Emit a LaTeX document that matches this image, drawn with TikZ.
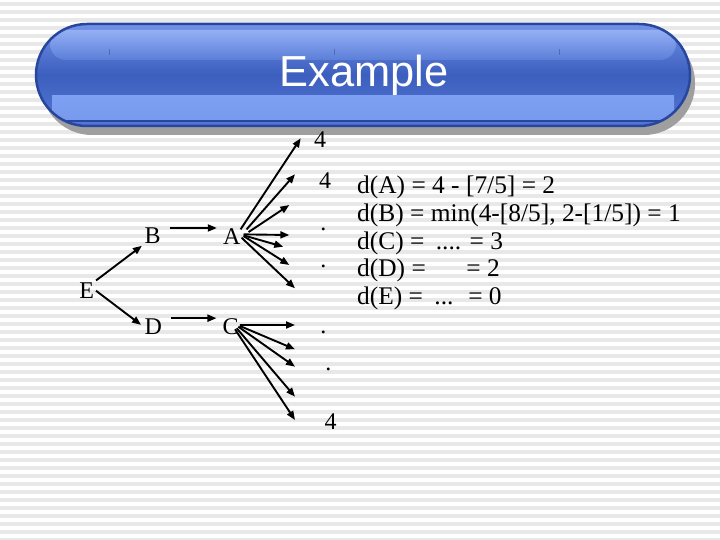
\documentclass[tikz,border=0pt]{standalone}
\usepackage{fontspec}
\setmainfont{Liberation Serif}
\newfontfamily\titlefont{Liberation Sans}
\usetikzlibrary{arrows.meta,calc}
\definecolor{stripe}{HTML}{E8E8E8}
\definecolor{capborder}{HTML}{27479E}
\definecolor{captop}{HTML}{7292E6}
\definecolor{capmid}{HTML}{3C5EBE}
\definecolor{capbot}{HTML}{5678D4}
\definecolor{hltop}{HTML}{94AFF4}
\definecolor{hlbot}{HTML}{5B7ED8}
\definecolor{bandcol}{HTML}{7EA0F2}
\tikzset{
  lbl/.style={font=\fontsize{24}{28}\selectfont, anchor=base, inner sep=1pt},
  eq/.style={font=\fontsize{25.4}{28}\selectfont, anchor=base west, inner sep=0pt},
  arr/.style={line width=1.9pt, -{Triangle[length=9pt,width=7pt]}}
}
\begin{document}
\begin{tikzpicture}[x=1pt,y=-1pt]
\useasboundingbox (0,0) rectangle (720,540);
% background
\fill[white] (0,0) rectangle (720,540);
\foreach \i in {0,...,67} \fill[stripe] (0,\i*8+2) rectangle (720,\i*8+6);
% title capsule
\fill[gray!75,rounded corners=51pt] (41,32) rectangle (695,135);
\shade[top color=captop, bottom color=capbot, middle color=capmid, rounded corners=51pt] (36,24) rectangle (690,126);
\begin{scope}
  \clip[rounded corners=51pt] (36,24) rectangle (690,126);
  \shade[top color=hltop, bottom color=hlbot, rounded corners=16pt] (50,30) rectangle (676,60);
  \shade[top color=bandcol, bottom color=bandcol!85!capbot] (52,96) rectangle (674,120);
  \draw[capborder, line width=1.2pt] (40,121) -- (686,121);
\end{scope}
\draw[capborder, line width=2.5pt, rounded corners=51pt] (36,24) rectangle (690,126);
\foreach \tx in {109,334,559} \draw[capborder!80, line width=0.6pt] (\tx,49) -- (\tx,55);
\node[font=\titlefont\fontsize{43.4}{48}\selectfont, text=white, anchor=base, inner sep=0pt] (title) at (364,87) {Example};
% graph nodes
\node[lbl] (E) at (86.7,298) {E};
\node[lbl] (B) at (152.7,243.3) {B};
\node[lbl] (A) at (231.7,244) {A};
\node[lbl] (D) at (153.3,334.5) {D};
\node[lbl] (C) at (230.7,334.5) {C};
% labels at fan ends
\node[lbl] (t1) at (320,148) {4};
\node[lbl] (t2) at (325,189) {4};
\node[lbl] (d1) at (323.3,230) {.};
\node[lbl] (d2) at (323.3,267.5) {.};
\node[lbl] (d3) at (323.3,333) {.};
\node[lbl] (d4) at (328.3,370) {.};
\node[lbl] (t3) at (330.7,429) {4};
% fan end coordinates
\coordinate (a1) at (300.7,138.3);
\coordinate (a2) at (295,174.3);
\coordinate (a3) at (289.3,205);
\coordinate (a4) at (289.3,235);
\coordinate (a5) at (283.3,246.7);
\coordinate (a6) at (289.3,265);
\coordinate (a7) at (295,288.3);
\coordinate (c1) at (295,325);
\coordinate (c2) at (295,349.3);
\coordinate (c3) at (295,366.7);
\coordinate (c4) at (295,396.7);
\coordinate (c5) at (295,420);
% connectors
\draw[arr, shorten <=1pt, shorten >=2pt] (E.north east) -- (B.south west);
\draw[arr, shorten <=1pt, shorten >=3pt] (E.east) -- (D.west);
\draw[arr] ([xshift=8pt,yshift=-1.6pt]B.north east) -- ([xshift=-5pt,yshift=-1.6pt]B.north east -| A.west);
\draw[arr] ([xshift=8pt,yshift=8.5pt]D.east) -- ([xshift=-5pt,yshift=8.5pt]D.east -| C.west);
\draw[arr] ($(A.east)+(-1,-6.7)$) -- (a1);
\draw[arr] ($(A.east)+(5,-6.7)$) -- (a2);
\draw[arr] ($(A.east)+(7,-4)$) -- (a3);
\draw[arr] ($(A.east)+(2,-1.7)$) -- (a4);
\draw[arr] ($(A.east)+(2,-0.7)$) -- (a5);
\draw[arr] ($(A.east)+(2,0)$) -- (a6);
\draw[arr] ($(A.east)+(0,1.6)$) -- (a7);
\draw[arr] ($(C.east)+(0,-1.7)$) -- (c1);
\draw[arr] ($(C.east)+(0,-0.7)$) -- (c2);
\draw[arr] ($(C.east)+(-1.6,0)$) -- (c3);
\draw[arr] ($(C.east)+(-3.2,1.6)$) -- (c4);
\draw[arr] ($(C.east)+(-4.9,2.6)$) -- (c5);
% equations
\node[eq] (eqA) at (357,194) {d(A) = 4 - [7/5] = 2};
\node[eq] (eqB) at (357,221.5) {d(B) = min(4-[8/5], 2-[1/5]) = 1};
\node[eq] (eqC) at (357,249) {d(C) =\hspace{0.2em} .... = 3};
\node[eq] (eqD) at (357,276.5) {d(D) =\hspace{1.6em}= 2};
\node[eq] (eqE) at (357,304) {d(E) =\hspace{0.2em} ...\hspace{0.25em} = 0};
\end{tikzpicture}
\end{document}
